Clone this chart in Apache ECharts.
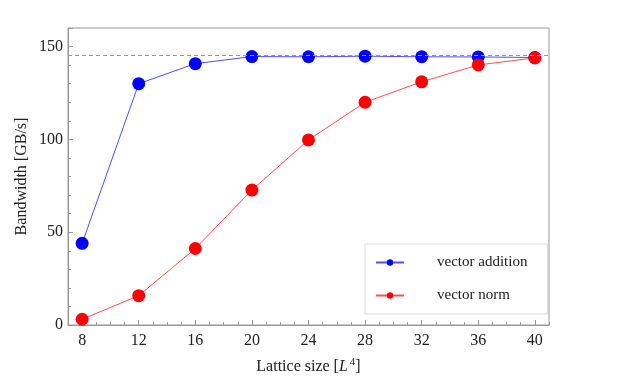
<!DOCTYPE html>
<html>
<head>
<meta charset="utf-8">
<script src="https://cdn.jsdelivr.net/npm/echarts@6/dist/echarts.min.js"></script>
<style>
    html, body { margin: 0; padding: 0; background: #fff; }
    #chart { width: 623px; height: 389px; }
</style>
</head>
<body>
<div id="chart"></div>
<script>
const latticeSizes = [8, 12, 16, 20, 24, 28, 32, 36, 40];
const vectorAddition = [44, 130, 140.8, 144.6, 144.5, 144.8, 144.5, 144.4, 144.1];
const vectorNorm = [3.1, 15.8, 41.2, 72.7, 99.7, 120, 131, 140.1, 143.9];
const peakBandwidth = 145.5;

const serif = 'Liberation Serif';

const chart = echarts.init(document.getElementById('chart'));
chart.setOption({
    backgroundColor: '#fff',
    animation: false,
    textStyle: { fontFamily: serif },
    grid: {
        left: 68,
        top: 28,
        right: 74,
        bottom: 64,
        show: true,
        borderColor: '#999',
        borderWidth: 1
    },
    legend: {
        orient: 'vertical',
        left: 365,
        top: 244,
        itemWidth: 28,
        itemHeight: 8,
        itemGap: 18,
        padding: [11, 20, 11, 10],
        borderColor: '#ddd',
        borderWidth: 1,
        textStyle: {
            fontFamily: serif,
            fontSize: 15,
            color: '#222',
            padding: [0, 0, 0, 28]
        },
        data: ['vector addition', 'vector norm']
    },
    xAxis: [
        {
            type: 'value',
            min: 7,
            max: 41,
            name: 'Lattice size [{i|L}{sup|4}]',
            nameLocation: 'middle',
            nameGap: 32,
            nameTextStyle: {
                fontFamily: serif,
                fontSize: 16,
                color: '#222',
                rich: {
                    i: { fontFamily: serif, fontStyle: 'italic', fontSize: 16, color: '#222' },
                    sup: { fontFamily: serif, fontSize: 11, color: '#222', padding: [0, 0, 8, 2] }
                }
            },
            axisLine: { lineStyle: { color: '#999' } },
            axisTick: { inside: true, length: 5, lineStyle: { color: '#999' }, customValues: latticeSizes },
            axisLabel: { fontFamily: serif, fontSize: 16, color: '#222', margin: 8, customValues: latticeSizes },
            splitLine: { show: false }
        },
        {
            type: 'value',
            position: 'bottom',
            min: 7,
            max: 41,
            interval: 1,
            axisLine: { show: false },
            axisTick: { inside: true, length: 3, lineStyle: { color: '#999' } },
            axisLabel: { show: false },
            splitLine: { show: false }
        }
    ],
    yAxis: {
        type: 'value',
        min: 0,
        max: 160,
        interval: 50,
        name: 'Bandwidth [GB/s]',
        nameLocation: 'middle',
        nameGap: 38,
        nameMoveOverlap: false,
        nameTextStyle: { fontFamily: serif, fontSize: 16, color: '#222' },
        axisLine: { show: true, lineStyle: { color: '#999' } },
        axisTick: { show: true, inside: true, length: 5, lineStyle: { color: '#999' } },
        minorTick: { show: true, splitNumber: 5, length: 3, lineStyle: { color: '#999' } },
        axisLabel: { fontFamily: serif, fontSize: 16, color: '#222', margin: 5, showMaxLabel: false },
        splitLine: { show: false }
    },
    series: [
        {
            name: 'vector addition',
            type: 'line',
            data: latticeSizes.map((x, i) => [x, vectorAddition[i]]),
            symbol: 'circle',
            symbolSize: 13,
            itemStyle: { color: '#0000ff' },
            lineStyle: { color: '#5050ff', width: 1 },
            markLine: {
                silent: true,
                symbol: 'none',
                label: { show: false },
                lineStyle: { color: '#999', type: [4, 3], width: 1 },
                data: [{ yAxis: peakBandwidth }]
            }
        },
        {
            name: 'vector norm',
            type: 'line',
            data: latticeSizes.map((x, i) => [x, vectorNorm[i]]),
            symbol: 'circle',
            symbolSize: 13,
            itemStyle: { color: '#ff0000' },
            lineStyle: { color: '#ff5050', width: 1 }
        }
    ]
});
</script>
</body>
</html>
